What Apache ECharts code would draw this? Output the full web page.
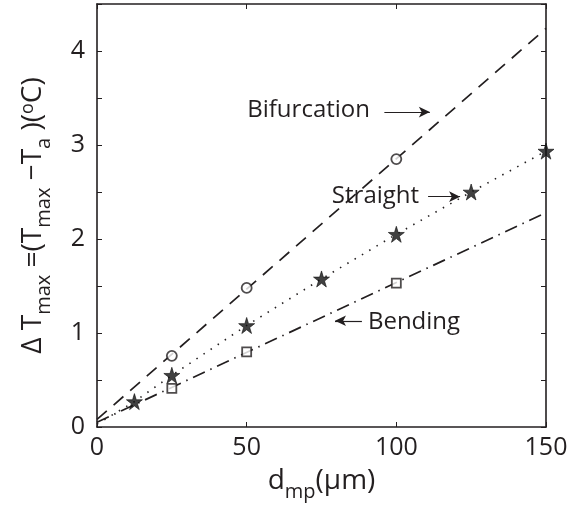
<!DOCTYPE html>
<html><head><meta charset="utf-8">
<script src="https://cdn.jsdelivr.net/npm/echarts@6/dist/echarts.min.js"></script>
<style>html,body{margin:0;padding:0;background:#fff}#c{width:583px;height:510px}</style>
</head><body><div id="c"></div>
<script>
const xTicks = [0, 50, 100, 150];
const yTicks = [0, 1, 2, 3, 4];
const bifX = [25, 50, 100];
const bifY = [0.757, 1.48, 2.85];
const strX = [12.5, 25, 50, 75, 100, 125, 150];
const strY = [0.27, 0.55, 1.08, 1.575, 2.05, 2.50, 2.935];
const bendX = [25, 50, 100];
const bendY = [0.41, 0.80, 1.53];
const bifLineX = [0, 150];
const bifLineY = [0.08, 4.24];
const strLineX = [0, 12.5, 25, 50, 75, 100, 125, 150];
const strLineY = [0.03, 0.27, 0.55, 1.08, 1.575, 2.05, 2.50, 2.935];
const bendLineX = [0, 150];
const bendLineY = [0.05, 2.28];
const annoText = ['Bifurcation', 'Straight', 'Bending'];
const annoPos = [[91.2, 3.37], [107.6, 2.46], [90.5, 1.12]];
const annoAlign = ['right', 'right', 'left'];
const arrowFrom = [[96, 3.35], [110.6, 2.45], [88.5, 1.13]];
const arrowTo = [[111.2, 3.35], [121.3, 2.45], [79.5, 1.13]];

const INK = '#231f20';
const FONT = '"Open Sans", "Noto Sans", sans-serif';
const zip = (xs, ys) => xs.map((x, i) => [x, ys[i]]);
const STAR = 'path://M50,0 L61,35 L98,35 L68,57 L79,91 L50,70 L21,91 L32,57 L2,35 L39,35 Z';

const chart = echarts.init(document.getElementById('c'), null, {renderer: 'canvas'});
const axisCommon = {
  axisLine: {show: true, onZero: false, lineStyle: {color: INK, width: 1.6}},
  axisTick: {show: true, inside: true, length: 5, lineStyle: {color: INK, width: 1}},
  splitLine: {show: false}
};
const nameRich = {
  n: {fontSize: 28, fontFamily: FONT, color: INK, lineHeight: 31, verticalAlign: 'top'},
  s: {fontSize: 20, fontFamily: FONT, color: INK, lineHeight: 20, padding: [15, 0, 0, 0], verticalAlign: 'top'},
  p: {fontSize: 18, fontFamily: FONT, color: INK, lineHeight: 18, padding: [0, 0, 17, 0], verticalAlign: 'top'}
};

chart.setOption({
  animation: false,
  backgroundColor: '#fff',
  grid: {left: 97, right: 37, top: 4, bottom: 83, containLabel: false},
  xAxis: [
    Object.assign({
      type: 'value', min: 0, max: 150, interval: 50, position: 'bottom',
      axisLabel: {fontSize: 25, fontFamily: FONT, color: INK, margin: 8,
        formatter: v => xTicks.includes(v) ? String(v) : ''},
      name: '{n|d}{s|mp}{n|(μm)}', nameLocation: 'middle', nameGap: 40,
      nameTextStyle: {rich: nameRich}
    }, axisCommon),
    Object.assign({
      type: 'value', min: 0, max: 150, interval: 50, position: 'top',
      axisLabel: {show: false}
    }, axisCommon)
  ],
  yAxis: [
    Object.assign({
      type: 'value', min: 0, max: 4.5, interval: 0.5, position: 'left',
      axisLabel: {fontSize: 25, fontFamily: FONT, color: INK, margin: 12,
        formatter: v => yTicks.includes(v) ? String(v) : ''},
      name: '{n|Δ T}{s|max}{n| =(T}{s|max}{n| −T}{s|a}{n| )(}{p|o}{n|C)}',
      nameLocation: 'middle', nameGap: 47, nameRotate: 90,
      nameTextStyle: {rich: nameRich}
    }, axisCommon),
    Object.assign({
      type: 'value', min: 0, max: 4.5, interval: 0.5, position: 'right',
      axisLabel: {show: false}
    }, axisCommon)
  ],
  series: [
    {type: 'line', data: zip(bifLineX, bifLineY), showSymbol: false, symbol: 'none',
      lineStyle: {color: INK, width: 1.7, type: [13, 9]}, z: 2},
    {type: 'line', data: zip(strLineX, strLineY), showSymbol: false, symbol: 'none',
      lineStyle: {color: INK, width: 1.6, type: [1.5, 7]}, z: 2},
    {type: 'line', data: zip(bendLineX, bendLineY), showSymbol: false, symbol: 'none',
      lineStyle: {color: INK, width: 1.7, type: [13, 6, 1.5, 6]}, z: 2,
      markLine: {
        silent: true, symbol: ['none', 'arrow'], symbolSize: [8, 11],
        lineStyle: {color: INK, width: 1.2, type: 'solid'}, label: {show: false},
        data: arrowFrom.map((f, i) => [{coord: f}, {coord: arrowTo[i]}])
      }},
    {type: 'scatter', data: zip(bifX, bifY), symbol: 'circle', symbolSize: 10,
      itemStyle: {color: '#fff', borderColor: INK, borderWidth: 1.8}, z: 5},
    {type: 'scatter', data: zip(strX, strY), symbol: STAR, symbolSize: 16,
      itemStyle: {color: '#111', borderColor: '#111', borderWidth: 0.8}, z: 5},
    {type: 'scatter', data: zip(bendX, bendY), symbol: 'rect', symbolSize: 9,
      itemStyle: {color: '#fff', borderColor: INK, borderWidth: 1.8}, z: 5}
  ]
});

const g = annoText.map((t, i) => {
  const p = chart.convertToPixel({gridIndex: 0}, annoPos[i]);
  return {type: 'text', x: p[0], y: p[1], z: 10,
    style: {text: t, fontSize: 24, fontFamily: FONT, fill: INK,
      align: annoAlign[i], verticalAlign: 'middle'}};
});
chart.setOption({graphic: g});
</script></body></html>
